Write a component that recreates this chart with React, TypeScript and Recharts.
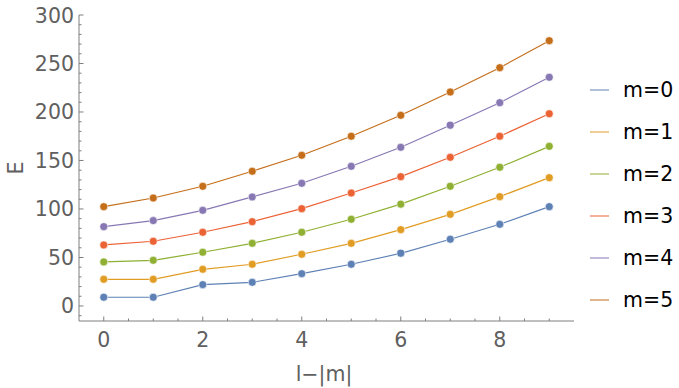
import React from 'react';
import { LineChart, Line, XAxis, YAxis, Legend, Label } from 'recharts';

// l - |m| on the x axis, one energy curve per m
const lMinusM = [0, 1, 2, 3, 4, 5, 6, 7, 8, 9];
const m0 = [9, 9, 22, 24.4, 33.3, 43, 54.3, 68.8, 84.2, 102.4];
const m1 = [27.5, 27.5, 37.8, 43, 53.3, 64.6, 78.7, 94.5, 112.7, 132.3];
const m2 = [45.4, 47.1, 55.4, 64.6, 76, 89.4, 105, 123.4, 143, 164.6];
const m3 = [62.9, 66.7, 76, 86.9, 100.3, 116.5, 133.3, 153.3, 175, 198.2];
const m4 = [81.8, 88, 98.6, 112.4, 126.5, 144, 163.6, 186.3, 209.6, 235.8];
const m5 = [102.4, 111.3, 123.4, 138.9, 155.4, 175, 196.6, 220.6, 245.7, 273.5];

const seriesNames = ['m=0', 'm=1', 'm=2', 'm=3', 'm=4', 'm=5'];
const seriesColors = ['#5E81B5', '#E19C24', '#8FB032', '#EB6235', '#8778B3', '#C56E1A'];
const seriesValues = [m0, m1, m2, m3, m4, m5];

const xMajorTicks = [0, 2, 4, 6, 8];
const xAllTicks = [0, 0.5, 1, 1.5, 2, 2.5, 3, 3.5, 4, 4.5, 5, 5.5, 6, 6.5, 7, 7.5, 8, 8.5, 9];
const yMajorTicks = [0, 50, 100, 150, 200, 250, 300];
const yAllTicks = [-10, 0, 10, 20, 30, 40, 50, 60, 70, 80, 90, 100, 110, 120, 130, 140, 150, 160, 170, 180, 190, 200, 210, 220, 230, 240, 250, 260, 270, 280, 290, 300];

const data = lMinusM.map((x, i) => {
  const row: Record<string, number> = { x };
  seriesNames.forEach((name, s) => { row[name] = seriesValues[s][i]; });
  return row;
});

const FONT = '"DejaVu Sans", sans-serif';
const TICK_COLOR = '#606060';
const FRAME = '#7f7f7f';
const FS = 20.5;
const MAJOR = 4.5;
const MINOR = 2.5;

function BottomTick({ x, y, payload }: any) {
  const major = xMajorTicks.includes(payload.value);
  return (
    <g>
      <line x1={x} x2={x} y1={y} y2={y - (major ? MAJOR : MINOR)} stroke={FRAME} />
      {major && (
        <text x={x} y={y + 26} textAnchor="middle" fill={TICK_COLOR} fontSize={FS} fontFamily={FONT}>
          {payload.value}
        </text>
      )}
    </g>
  );
}

function TopTick({ x, y, payload }: any) {
  const major = xMajorTicks.includes(payload.value);
  return <line x1={x} x2={x} y1={y} y2={y + (major ? MAJOR : MINOR)} stroke={FRAME} />;
}

function LeftTick({ x, y, payload }: any) {
  const major = yMajorTicks.includes(payload.value);
  return (
    <g>
      <line x1={x} x2={x + (major ? MAJOR : MINOR)} y1={y} y2={y} stroke={FRAME} />
      {major && (
        <text x={x - 5} y={y + 7.5} textAnchor="end" fill={TICK_COLOR} fontSize={FS} fontFamily={FONT}>
          {payload.value}
        </text>
      )}
    </g>
  );
}

function RightTick({ x, y, payload }: any) {
  const major = yMajorTicks.includes(payload.value);
  return <line x1={x} x2={x - (major ? MAJOR : MINOR)} y1={y} y2={y} stroke={FRAME} />;
}

function LegendBox() {
  return (
    <div style={{ width: 99, fontFamily: FONT, fontSize: FS, color: '#000' }}>
      {seriesNames.map((name, i) => (
        <div key={name} style={{ height: 42, display: 'flex', alignItems: 'center' }}>
          <span style={{ display: 'inline-block', marginLeft: 10, width: 19, height: 2, background: seriesColors[i], opacity: 0.5 }} />
          <span style={{ marginLeft: 14 }}>{name}</span>
        </div>
      ))}
    </div>
  );
}

export default function App() {
  return (
    <div style={{ position: 'absolute', left: 0, top: 0, background: '#fff' }}>
      <LineChart width={679} height={388} data={data} margin={{ top: 15, right: 6, bottom: 0, left: 0 }}>
        <XAxis
          xAxisId="bottom"
          dataKey="x"
          type="number"
          domain={[-0.5, 9.5]}
          ticks={xAllTicks}
          interval={0}
          height={67}
          tickSize={0}
          tickMargin={0}
          tickLine={false}
          stroke={FRAME}
          tick={<BottomTick />}
        >
          <Label
            content={() => (
              <text x={324} y={381} textAnchor="middle" fill={TICK_COLOR} fontSize={FS} fontFamily={FONT}>
                l−|m|
              </text>
            )}
          />
        </XAxis>
        <XAxis
          xAxisId="top"
          orientation="top"
          dataKey="x"
          type="number"
          domain={[-0.5, 9.5]}
          ticks={xAllTicks}
          interval={0}
          height={0}
          tickSize={0}
          tickMargin={0}
          tickLine={false}
          stroke={FRAME}
          tick={<TopTick />}
        />
        <YAxis
          yAxisId="left"
          type="number"
          domain={[-15.5, 300]}
          ticks={yAllTicks}
          interval={0}
          width={79}
          tickSize={0}
          tickMargin={0}
          tickLine={false}
          stroke={FRAME}
          tick={<LeftTick />}
        >
          <Label
            content={() => (
              <text x={23} y={168} transform="rotate(-90 23 168)" textAnchor="middle" fill={TICK_COLOR} fontSize={FS} fontFamily={FONT}>
                E
              </text>
            )}
          />
        </YAxis>
        <YAxis
          yAxisId="right"
          orientation="right"
          type="number"
          domain={[-15.5, 300]}
          ticks={yAllTicks}
          interval={0}
          width={0}
          tickSize={0}
          tickMargin={0}
          tickLine={false}
          stroke={FRAME}
          tick={<RightTick />}
        />
        <Legend
          layout="vertical"
          align="right"
          verticalAlign="middle"
          content={<LegendBox />}
          wrapperStyle={{ left: 580, top: 69, right: 'auto', width: 99 }}
        />
        {seriesNames.map((name, i) => (
          <Line
            key={name}
            xAxisId="bottom"
            yAxisId="left"
            dataKey={name}
            stroke={seriesColors[i]}
            strokeWidth={1.2}
            dot={{ r: 4, fill: seriesColors[i], stroke: '#fff', strokeWidth: 0.6 }}
            activeDot={false}
            isAnimationActive={false}
          />
        ))}
      </LineChart>
    </div>
  );
}
